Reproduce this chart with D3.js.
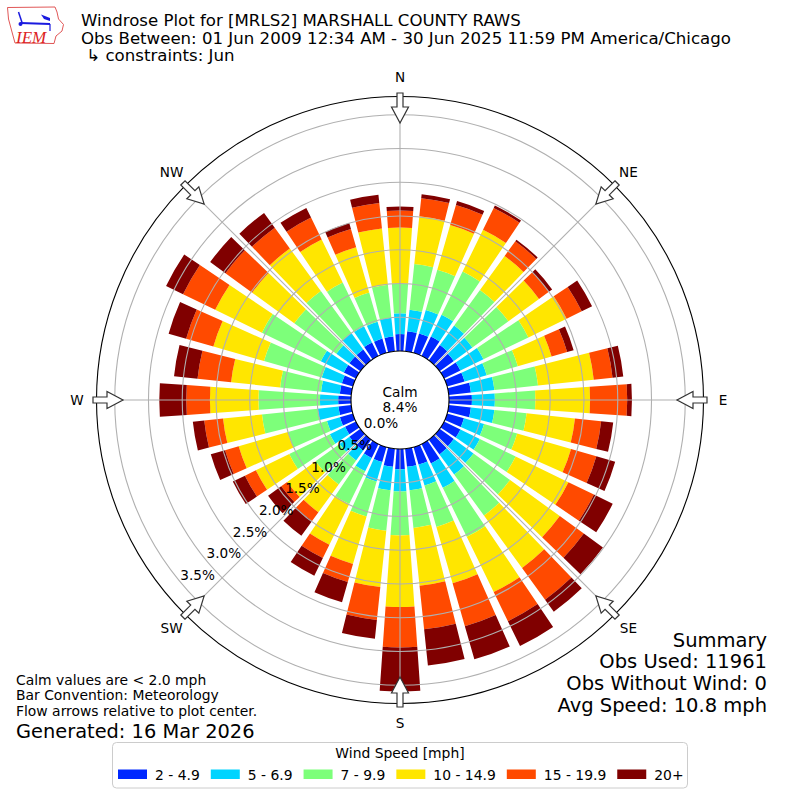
<!DOCTYPE html>
<html><head><meta charset="utf-8">
<script src="https://cdn.jsdelivr.net/npm/d3@7"></script>
<style>
body{margin:0;background:#fff;}
svg{display:block;font-family:"DejaVu Sans",sans-serif;}
</style></head><body>
<svg id="chart" width="800" height="800"></svg>
<script>
// ---------- DATA ----------
const directions = [0,10,20,30,40,50,60,70,80,90,100,110,120,130,140,150,160,170,
                    180,190,200,210,220,230,240,250,260,270,280,290,300,310,320,330,340,350];
const speedBins = ["2 - 4.9","5 - 6.9","7 - 9.9","10 - 14.9","15 - 19.9","20+"];
const binColors = ["#0028ff","#00d4ff","#7dff7a","#ffe600","#ff4a00","#800000"];
// percent of observations per direction, per speed bin
const bin2_4_9   = [0.25,0.30,0.30,0.32,0.28,0.26,0.27,0.27,0.33,0.34,0.33,0.26,0.27,0.26,0.27,0.32,0.27,0.27,
                    0.30,0.27,0.23,0.23,0.20,0.20,0.18,0.20,0.19,0.19,0.17,0.17,0.20,0.20,0.20,0.22,0.22,0.22];
const bin5_6_9   = [0.31,0.32,0.36,0.36,0.36,0.34,0.38,0.34,0.35,0.34,0.35,0.31,0.32,0.36,0.37,0.40,0.32,0.35,
                    0.33,0.35,0.30,0.22,0.18,0.18,0.25,0.20,0.31,0.27,0.28,0.31,0.38,0.24,0.30,0.27,0.26,0.28];
const bin7_9_9   = [0.44,0.68,0.62,0.71,0.65,0.66,0.74,0.48,0.65,0.60,0.48,0.51,0.59,0.67,0.75,0.81,0.64,0.56,
                    0.65,0.60,0.54,0.54,0.44,0.44,0.67,0.60,0.83,0.91,0.61,0.89,0.97,0.77,0.77,0.72,0.45,0.49];
const bin10_14_9 = [0.83,0.71,0.69,0.69,0.62,0.56,0.63,0.52,0.83,0.81,0.72,0.83,0.87,0.91,0.96,0.91,0.87,0.86,
                    1.06,0.84,0.73,0.67,0.51,0.52,0.55,0.76,0.58,0.72,0.73,0.78,0.77,0.77,0.78,0.71,0.70,0.84];
const bin15_19_9 = [0.25,0.27,0.31,0.36,0.27,0.18,0.25,0.24,0.28,0.55,0.39,0.39,0.42,0.44,0.58,0.48,0.66,0.65,
                    0.60,0.49,0.28,0.22,0.16,0.11,0.18,0.21,0.28,0.35,0.50,0.42,0.53,0.49,0.38,0.36,0.28,0.38];
const bin20plus  = [0.06,0.06,0.06,0.04,0.03,0.06,0.17,0.10,0.16,0.07,0.18,0.29,0.31,0.35,0.22,0.41,0.51,0.54,
                    0.65,0.28,0.31,0.29,0.27,0.24,0.20,0.22,0.17,0.40,0.35,0.27,0.28,0.28,0.27,0.16,0.09,0.12];
const compassLabels = ["N","NE","E","SE","S","SW","W","NW"];
const compassAngles = [0,45,90,135,180,225,270,315];
const rTicks = [0,0.5,1.0,1.5,2.0,2.5,3.0,3.5];
const rTickLabels = ["0.0%","0.5%","1.0%","1.5%","2.0%","2.5%","3.0%","3.5%"];
const calmPct = "8.4%";
const titleLines = ["Windrose Plot for [MRLS2] MARSHALL COUNTY RAWS",
  "Obs Between: 01 Jun 2009 12:34 AM - 30 Jun 2025 11:59 PM America/Chicago",
  " \u21B3 constraints: Jun"];
const noteLines = ["Calm values are < 2.0 mph","Bar Convention: Meteorology","Flow arrows relative to plot center."];
const generated = "Generated: 16 Mar 2026";
const summaryLines = ["Summary","Obs Used: 11961","Obs Without Wind: 0","Avg Speed: 10.8 mph"];
const legendTitle = "Wind Speed [mph]";

// ---------- CHART ----------
const svg = d3.select("#chart");
svg.append("rect").attr("width",800).attr("height",800).attr("fill","#fff");
const cx = 400, cy = 400;
const rMax = 3.77;
const r = d3.scaleLinear().domain([0, rMax]).range([49, 303.5]);
const deg = Math.PI/180;
const halfOpen = 4; // degrees (80% of the 10-degree sector)

const keys = ["b0","b1","b2","b3","b4","b5"];
const series = [bin2_4_9,bin5_6_9,bin7_9_9,bin10_14_9,bin15_19_9,bin20plus];
const rows = directions.map((d,i)=>{
  const o = {dir:d};
  keys.forEach((k,j)=>o[k]=series[j][i]);
  return o;
});
const stacked = d3.stack().keys(keys)(rows);

const g = svg.append("g").attr("transform",`translate(${cx},${cy})`);
const arc = d3.arc();

stacked.forEach((s,j)=>{
  g.append("g").selectAll("path").data(s).join("path")
    .attr("d", d=>arc({innerRadius:r(d[0]), outerRadius:r(d[1]),
       startAngle:(d.data.dir-halfOpen)*deg, endAngle:(d.data.dir+halfOpen)*deg}))
    .attr("fill", binColors[j]);
});

// grid circles
g.append("g").selectAll("circle").data(rTicks.filter(t=>t>0)).join("circle")
  .attr("r", d=>r(d)).attr("fill","none").attr("stroke","#b0b0b0").attr("stroke-width",1.1);
// radial grid lines
g.append("g").selectAll("line").data(compassAngles).join("line")
  .attr("x1", d=>r(0)*Math.sin(d*deg)).attr("y1", d=>-r(0)*Math.cos(d*deg))
  .attr("x2", d=>r(rMax)*Math.sin(d*deg)).attr("y2", d=>-r(rMax)*Math.cos(d*deg))
  .attr("stroke","#b0b0b0").attr("stroke-width",1.1);
// outer circle
g.append("circle").attr("r", r(rMax)).attr("fill","none").attr("stroke","#000").attr("stroke-width",1.1);
// calm circle
g.append("circle").attr("r", r(0)).attr("fill","#fff").attr("stroke","#000").attr("stroke-width",1.1);
g.append("text").attr("x",0).attr("y",-3.5).attr("text-anchor","middle").attr("font-size",13.7).text("Calm");
g.append("text").attr("x",0).attr("y",12).attr("text-anchor","middle").attr("font-size",13.7).text(calmPct);

// radial tick labels
const lblDir = [-0.776, 0.643];
g.append("g").selectAll("text").data(rTicks).join("text")
  .attr("x", d=>r(d)*lblDir[0]+19).attr("y", d=>r(d)*lblDir[1]-8.3)
  .attr("text-anchor","middle").attr("dominant-baseline","central")
  .attr("font-size",13.6).text((d,i)=>rTickLabels[i]);

// compass labels
g.append("g").selectAll("text").data(compassAngles).join("text")
  .attr("x", d=>323*Math.sin(d*deg)).attr("y", d=>-323*Math.cos(d*deg))
  .attr("text-anchor","middle").attr("dominant-baseline","central")
  .attr("font-size",13.6).text((d,i)=>compassLabels[i]);

// flow arrows
const arrowPts = [[-3,-307],[3,-307],[3,-293],[8.5,-293],[0,-277],[-8.5,-293],[-3,-293]];
g.append("g").selectAll("path").data(compassAngles).join("path")
  .attr("d", "M"+arrowPts.map(p=>p.join(",")).join("L")+"Z")
  .attr("transform", d=>`rotate(${d})`)
  .attr("fill","#fff").attr("stroke","#333").attr("stroke-width",1.2).attr("stroke-linejoin","miter");

// ---------- TITLES ----------
svg.append("g").selectAll("text").data(titleLines).join("text")
  .attr("x",81).attr("y",(d,i)=>26+i*17.5).attr("font-size",16.6)
  .attr("xml:space","preserve").style("white-space","pre").text(d=>d);

// logo
const logo = svg.append("g");
logo.append("path")
  .attr("d","M7.5,7.5 L55,7 L57,12 L58.5,19 L63.5,24.5 L62,31 L56,36 L54,43.5 L15,43 L12,32 L8.5,19 Z")
  .attr("fill","#fff").attr("stroke","#d44").attr("stroke-width",0.9);
logo.append("line").attr("x1",20.5).attr("y1",23).attr("x2",50).attr("y2",24).attr("stroke","#1a1adf").attr("stroke-width",2);
logo.append("line").attr("x1",18.5).attr("y1",12).attr("x2",22).attr("y2",22.5).attr("stroke","#1a1adf").attr("stroke-width",1.5);
logo.append("path").attr("d","M41,14.5 L50,18 L50,21 L44,19 Z").attr("fill","#1a1adf");
logo.append("circle").attr("cx",20.5).attr("cy",24).attr("r",2).attr("fill","#1a1adf");
logo.append("line").attr("x1",50).attr("y1",24).attr("x2",50).attr("y2",31).attr("stroke","#1a1adf").attr("stroke-width",1.2);
logo.append("text").attr("x",16).attr("y",43).attr("font-family","Liberation Serif, serif")
  .attr("font-style","italic").attr("font-size",17).attr("fill","#d22").text("IEM");

// bottom-left notes
svg.append("g").selectAll("text").data(noteLines).join("text")
  .attr("x",16).attr("y",(d,i)=>684.5+i*15.5).attr("font-size",13.9).text(d=>d);
svg.append("text").attr("x",16).attr("y",738).attr("font-size",19.4).text(generated);

// summary
svg.append("g").selectAll("text").data(summaryLines).join("text")
  .attr("x",767).attr("y",(d,i)=>646.5+i*21.7).attr("text-anchor","end")
  .attr("font-size",19.5).text(d=>d);

// ---------- LEGEND ----------
const lg = svg.append("g");
lg.append("rect").attr("x",112.5).attr("y",742.5).attr("width",575).attr("height",45.5)
  .attr("rx",4).attr("fill","#fff").attr("stroke","#ccc").attr("stroke-width",1);
lg.append("text").attr("x",400).attr("y",758).attr("text-anchor","middle").attr("font-size",13.9).text(legendTitle);
let lx = 118;
speedBins.forEach((lab,i)=>{
  lg.append("rect").attr("x",lx).attr("y",769.5).attr("width",29).attr("height",9.5).attr("fill",binColors[i]);
  const t = lg.append("text").attr("x",lx+37).attr("y",779.5).attr("font-size",13.9).text(lab);
  lx += 37 + t.node().getComputedTextLength() + 11;
});
</script>
</body></html>
